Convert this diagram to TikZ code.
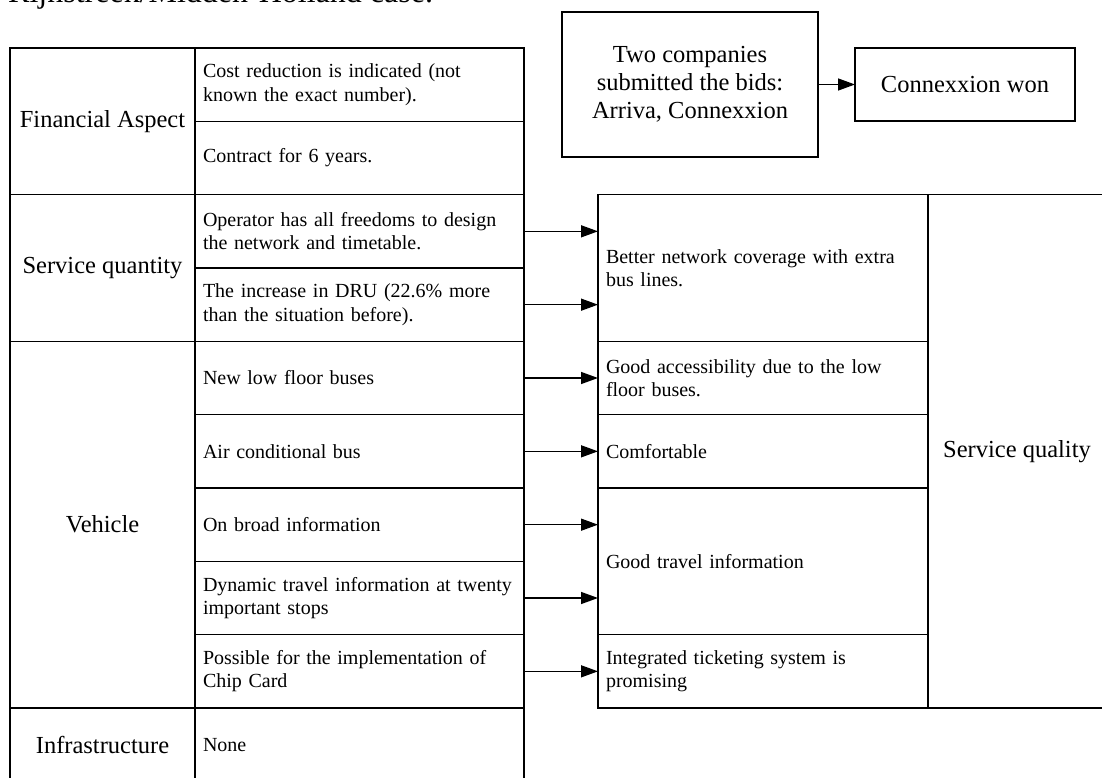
\documentclass[tikz,border=0pt]{standalone}
\usepackage{fontspec}
\setmainfont{Liberation Serif}
\usetikzlibrary{arrows.meta}
\begin{document}
\begin{tikzpicture}[x=1pt,y=-1pt,
  box/.style={draw, line width=1.4pt, rectangle, inner sep=0pt, outer sep=0pt},
  big/.style={font=\fontsize{24.5}{28}\selectfont},
  small/.style={font=\fontsize{20}{23.5}\selectfont},
  head/.style={box, big, minimum width=185pt, align=center},
  cellL/.style={box, small, text width=313pt, inner xsep=8pt, align=left},
  cellR/.style={box, small, text width=314pt, inner xsep=8pt, align=left},
  oneh/.style={minimum height=73.33pt},
  twoh/.style={minimum height=146.67pt},
  conn/.style={-{Triangle[length=17pt,width=12pt]}, line width=1.4pt}]
\useasboundingbox (0,0) rectangle (1102,778);
\clip (0,0) rectangle (1102,778);

% heading, partly above the page
\node[anchor=base west, inner sep=0pt, font=\fontsize{32}{36}\selectfont] (title) at (8,3) {Rijnstreek/Midden-Holland case.};

% left table: aspects and their measures
\node[head, twoh] (fin) at (102.5,121.33) {Financial Aspect};
\node[cellL, oneh] (fin1) at (359.5,84.67) {Cost reduction is indicated (not\\known the exact number).};
\node[cellL, oneh] (fin2) at (359.5,158) {Contract for 6 years.};

\node[head, twoh] (sq) at (102.5,268) {Service quantity};
\node[cellL, oneh] (sq1) at (359.5,231.33) {Operator has all freedoms to design\\the network and timetable.};
\node[cellL, oneh] (sq2) at (359.5,304.67) {The increase in DRU (22.6\% more\\than the situation before).};

\node[head, minimum height=366.67pt] (veh) at (102.5,524.67) {Vehicle};
\node[cellL, oneh] (v1) at (359.5,378) {New low floor buses};
\node[cellL, oneh] (v2) at (359.5,451.33) {Air conditional bus};
\node[cellL, oneh] (v3) at (359.5,524.67) {On broad information};
\node[cellL, oneh] (v4) at (359.5,598) {Dynamic travel information at twenty\\important stops};
\node[cellL, oneh] (v5) at (359.5,671.33) {Possible for the implementation of\\Chip Card};

\node[head, oneh] (inf) at (102.5,744.67) {Infrastructure};
\node[cellL, oneh] (none) at (359.5,744.67) {None};

% right table: resulting service quality
\node[cellR, twoh] (r1) at (763,268) {Better network coverage with extra\\bus lines.};
\node[cellR, oneh] (r2) at (763,378) {Good accessibility due to the low\\floor buses.};
\node[cellR, oneh] (r3) at (763,451.33) {Comfortable};
\node[cellR, twoh] (r4) at (763,561.33) {Good travel information};
\node[cellR, oneh] (r5) at (763,671.33) {Integrated ticketing system is\\promising};
\node[box, big, minimum width=178pt, minimum height=513.33pt] (sqal) at (1017,451.33) {Service quality};

% tender outcome
\node[box, big, minimum width=256pt, minimum height=145pt, align=center] (bids) at (690,84.5) {Two companies\\submitted the bids:\\Arriva, Connexxion};
\node[box, big, minimum width=220pt, minimum height=73pt] (won) at (965,84.5) {Connexxion won};

% connectors
\draw[conn] (bids.east) -- (won.west);
\draw[conn] (sq1.east) -- (sq1.east -| r1.west);
\draw[conn] (sq2.east) -- (sq2.east -| r1.west);
\draw[conn] (v1.east) -- (v1.east -| r2.west);
\draw[conn] (v2.east) -- (v2.east -| r3.west);
\draw[conn] (v3.east) -- (v3.east -| r4.west);
\draw[conn] (v4.east) -- (v4.east -| r4.west);
\draw[conn] (v5.east) -- (v5.east -| r5.west);
\end{tikzpicture}
\end{document}
